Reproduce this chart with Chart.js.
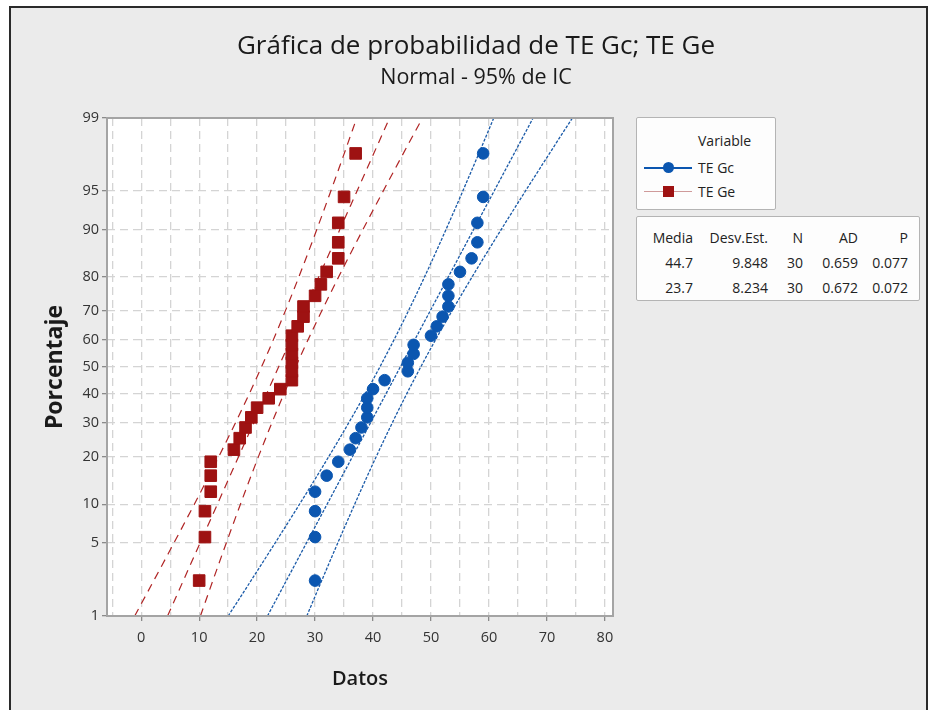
<!DOCTYPE html>
<html>
<head>
<meta charset="utf-8">
<script src="https://cdn.jsdelivr.net/npm/chart.js@4"></script>
<style>
  body { margin: 0; background: #fff; }
  #wrap { position: relative; width: 928px; height: 710px; overflow: hidden; font-family: "Open Sans", sans-serif; color: #222; }
  #frame { position: absolute; left: 9px; top: 6px; width: 915px; height: 720px; background: #ebebeb; border: 2px solid #2a2a2a; }
  #c { position: absolute; left: 0; top: 0; }
  .ttl { position: absolute; left: 126px; width: 700px; text-align: center; white-space: nowrap; color: #1a1a1a; }
  .box { position: absolute; background: #fdfdfd; border: 1px solid #b4b4b4; border-radius: 2px; font-size: 14px; }
  .cell { position: absolute; text-align: right; white-space: nowrap; }
  .sw { position: absolute; }
</style>
</head>
<body>
<div id="wrap">
  <div id="frame"></div>
  <canvas id="c" width="928" height="710"></canvas>
  <div class="ttl" id="title" style="top:26px; font-size:26px; line-height:36px;"></div>
  <div class="ttl" id="subtitle" style="top:63px; font-size:21.5px; line-height:26px;"></div>
  <div class="box" id="legend" style="left:636px; top:117px; width:138px; height:91px;"></div>
  <div class="box" id="stats" style="left:636px; top:216px; width:282px; height:83px;"></div>
</div>
<script>
'use strict';

const chartTitle = 'Gráfica de probabilidad de TE Gc; TE Ge';
const chartSubtitle = 'Normal - 95% de IC';
const series = ['TE Gc', 'TE Ge'];
const seriesColors = ['#0b56b0', '#9e1212'];
// sorted observations
const gcValues = [30, 30, 30, 30, 32, 34, 36, 37, 38, 39, 39, 39, 40, 42, 46, 46, 47, 47, 50, 51, 52, 53, 53, 53, 55, 57, 58, 58, 59, 59];
const geValues = [10, 11, 11, 12, 12, 12, 16, 17, 18, 19, 20, 22, 24, 26, 26, 26, 26, 26, 26, 27, 28, 28, 30, 31, 32, 34, 34, 34, 35, 37];
// plotting positions (percent) for ranks 1..30
const percents = [2.3, 5.6, 8.9, 12.2, 15.5, 18.8, 22.0, 25.3, 28.6, 31.9, 35.2, 38.5, 41.8, 45.1, 48.4,
                  51.6, 54.9, 58.2, 61.5, 64.8, 68.1, 71.4, 74.7, 78.0, 81.3, 84.5, 87.8, 91.1, 94.4, 97.7];
const means = [44.7, 23.7];
const stdevs = [9.848, 8.234];
const nObs = [30, 30];
const adStats = [0.659, 0.672];
const pValues = [0.077, 0.072];
const yTickPercents = [1, 5, 10, 20, 30, 40, 50, 60, 70, 80, 90, 95, 99];
const xGridValues = [-5, 0, 5, 10, 15, 20, 25, 30, 35, 40, 45, 50, 55, 60, 65, 70, 75, 80];

// inverse normal cdf (Acklam)
function normInv(p) {
  const a = [-3.969683028665376e+01, 2.209460984245205e+02, -2.759285104469687e+02, 1.383577518672690e+02, -3.066479806614716e+01, 2.506628277459239e+00];
  const b = [-5.447609879822406e+01, 1.615858368580409e+02, -1.556989798598866e+02, 6.680131188771972e+01, -1.328068155288572e+01];
  const c = [-7.784894002430293e-03, -3.223964580411365e-01, -2.400758277161838e+00, -2.549732539343734e+00, 4.374664141464968e+00, 2.938163982698783e+00];
  const d = [7.784695709041462e-03, 3.224671290700398e-01, 2.445134137142996e+00, 3.754408661907416e+00];
  const pl = 0.02425;
  let q, r;
  if (p < pl) {
    q = Math.sqrt(-2 * Math.log(p));
    return (((((c[0]*q+c[1])*q+c[2])*q+c[3])*q+c[4])*q+c[5]) / ((((d[0]*q+d[1])*q+d[2])*q+d[3])*q+1);
  }
  if (p > 1 - pl) {
    q = Math.sqrt(-2 * Math.log(1 - p));
    return -(((((c[0]*q+c[1])*q+c[2])*q+c[3])*q+c[4])*q+c[5]) / ((((d[0]*q+d[1])*q+d[2])*q+d[3])*q+1);
  }
  q = p - 0.5; r = q * q;
  return (((((a[0]*r+a[1])*r+a[2])*r+a[3])*r+a[4])*r+a[5])*q / (((((b[0]*r+b[1])*r+b[2])*r+b[3])*r+b[4])*r+1);
}

const zMin = normInv(0.01), zMax = normInv(0.99);
const yTicksZ = yTickPercents.map(p => normInv(p / 100));

function pointsFor(values) {
  return values.map((v, i) => ({ x: v, y: normInv(percents[i] / 100) }));
}

// fitted line and 95% CI from the estimates shown in the table
function fitLine(k, side) {
  const pts = [];
  for (let j = 0; j <= 40; j++) {
    const z = zMin + (zMax - zMin) * j / 40;
    const se = stdevs[k] * Math.sqrt((1 + z * z / 2) / nObs[k]);
    pts.push({ x: means[k] + z * stdevs[k] + side * 1.96 * se, y: z });
  }
  return pts;
}

const datasets = [
  { label: series[0], data: pointsFor(gcValues), pointStyle: 'circle', pointRadius: 5.8,
    backgroundColor: seriesColors[0], borderColor: seriesColors[0], showLine: false },
  { label: series[1], data: pointsFor(geValues), pointStyle: 'rect', pointRadius: 8.2,
    backgroundColor: seriesColors[1], borderColor: seriesColors[1], showLine: false }
];
[-1, 0, 1].forEach(s => {
  datasets.push({ data: fitLine(0, s), showLine: true, pointRadius: 0, borderColor: '#1a5aa8',
    borderWidth: 1.3, borderDash: [3, 1.5], fill: false });
  datasets.push({ data: fitLine(1, s), showLine: true, pointRadius: 0, borderColor: '#b02424',
    borderWidth: 1.2, borderDash: [8, 6], fill: false });
});

const plotFrame = {
  id: 'plotFrame',
  beforeDraw(chart) {
    const a = chart.chartArea, ctx = chart.ctx;
    ctx.save();
    ctx.fillStyle = '#ffffff';
    ctx.fillRect(a.left, a.top, a.right - a.left, a.bottom - a.top);
    ctx.restore();
  },
  afterDraw(chart) {
    const a = chart.chartArea, ctx = chart.ctx;
    ctx.save();
    ctx.strokeStyle = '#a4a4a4';
    ctx.lineWidth = 2;
    ctx.strokeRect(a.left, a.top, a.right - a.left, a.bottom - a.top);
    ctx.restore();
  }
};

new Chart(document.getElementById('c').getContext('2d'), {
  type: 'scatter',
  data: { datasets: datasets },
  plugins: [plotFrame],
  options: {
    responsive: false,
    animation: false,
    layout: { padding: { left: 38, right: 315, top: 118, bottom: 14 } },
    plugins: {
      legend: { display: false },
      tooltip: { enabled: false }
    },
    scales: {
      x: {
        type: 'linear', min: -5.9, max: 81.4,
        afterFit(s) { s.height = 80; },
        afterBuildTicks(s) { s.ticks = xGridValues.map(v => ({ value: v })); },
        ticks: { autoSkip: false, maxRotation: 0, padding: 8, color: '#333',
          font: { family: 'Open Sans', size: 14.5 },
          callback: v => (v % 10 === 0 ? String(v) : '') },
        grid: { color: '#d4d4d4', lineWidth: 1.3, tickLength: 5,
          tickColor: ctx => (ctx.tick && ctx.tick.value % 10 === 0 ? '#8a8a8a' : 'rgba(0,0,0,0)') },
        border: { display: false, dash: [8, 5] },
        title: { display: true, text: 'Datos', color: '#1a1a1a',
          font: { family: 'Open Sans', size: 20, weight: '600' }, padding: { top: 0, bottom: 5 } }
      },
      y: {
        type: 'linear', min: zMin, max: zMax,
        afterFit(s) { s.width = 69; },
        afterBuildTicks(s) { s.ticks = yTicksZ.map(v => ({ value: v })); },
        ticks: { autoSkip: false, padding: 3, color: '#333',
          font: { family: 'Open Sans', size: 14.5 },
          callback: (v, i) => String(yTickPercents[i]) },
        grid: { color: '#d4d4d4', lineWidth: 1.3, tickLength: 5, tickColor: '#8a8a8a' },
        border: { display: false, dash: [8, 5] },
        title: { display: true, text: 'Porcentaje', color: '#1a1a1a',
          font: { family: 'Open Sans', size: 23, weight: 'bold' }, padding: { top: 4, bottom: 0 } }
      }
    }
  }
});

document.getElementById('title').textContent = chartTitle;
document.getElementById('subtitle').textContent = chartSubtitle;

// legend box
const legend = document.getElementById('legend');
legend.innerHTML =
  '<div class="cell" style="left:61px; top:13px; text-align:left">Variable</div>' +
  series.map((name, i) => {
    const top = 40 + i * 24;
    const lineCol = i === 0 ? seriesColors[0] : '#cf9a9a';
    const marker = i === 0
      ? '<div class="sw" style="left:26px; top:' + (top + 4) + 'px; width:11px; height:11px; border-radius:50%; background:' + seriesColors[0] + '"></div>'
      : '<div class="sw" style="left:26px; top:' + (top + 4) + 'px; width:11px; height:11px; background:' + seriesColors[1] + '"></div>';
    return '<div class="sw" style="left:7px; top:' + (top + 9) + 'px; width:48px; height:0; border-top:' + (i === 0 ? 2 : 1.5) + 'px solid ' + lineCol + '"></div>' +
      marker +
      '<div class="cell" style="left:61px; top:' + (top) + 'px; text-align:left">' + name + '</div>';
  }).join('');

// statistics table
const stats = document.getElementById('stats');
const headers = ['Media', 'Desv.Est.', 'N', 'AD', 'P'];
const colRight = [56, 131, 166, 221, 271];
const rows = [headers].concat(series.map((s, i) => [
  means[i].toFixed(1), stdevs[i].toFixed(3), String(nObs[i]), adStats[i].toFixed(3), pValues[i].toFixed(3)
]));
stats.innerHTML = rows.map((r, ri) =>
  r.map((t, ci) => '<div class="cell" style="right:' + (282 - colRight[ci]) + 'px; top:' + (11 + ri * 25) + 'px">' + t + '</div>').join('')
).join('');
</script>
</body>
</html>
